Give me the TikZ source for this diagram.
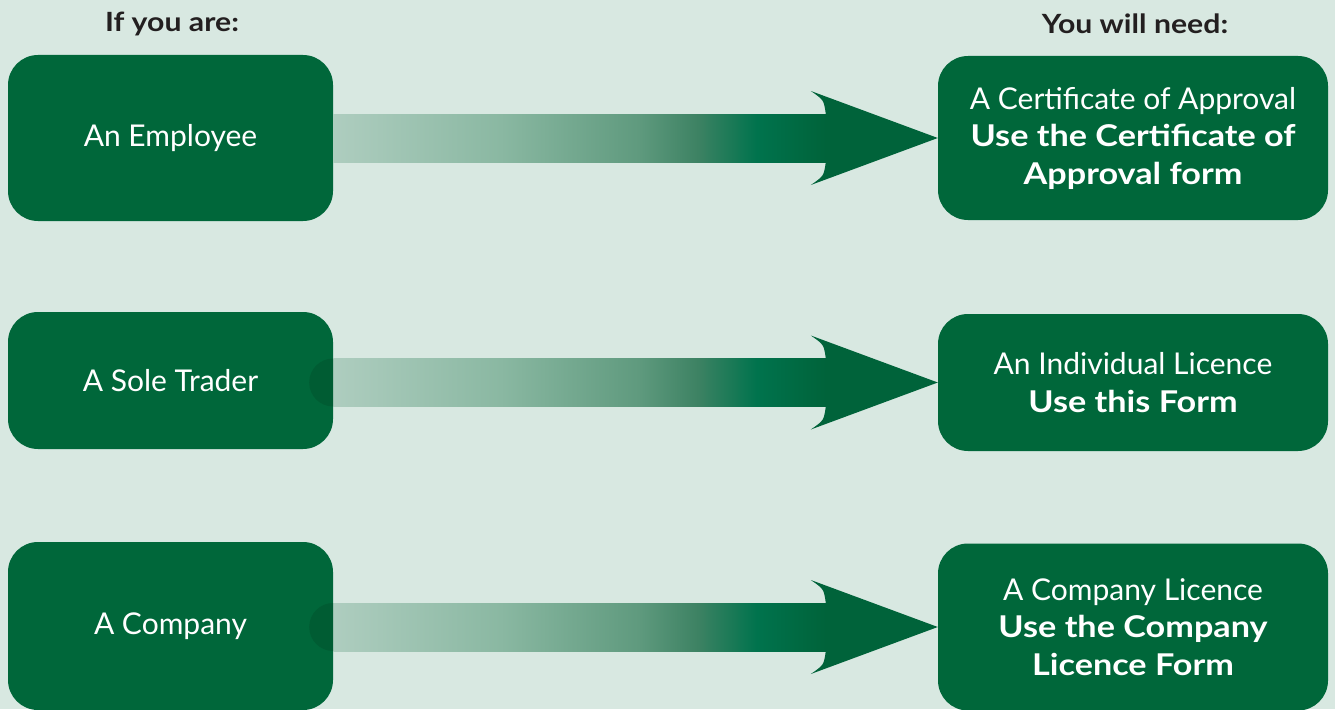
\documentclass[tikz,border=0pt]{standalone}
\usepackage{fontspec}
\setmainfont{Lato}[BoldFeatures={FakeStretch=1.14}]
\usetikzlibrary{calc}

\definecolor{bggreen}{HTML}{D8E8E1}
\definecolor{boxgreen}{HTML}{00673A}
\definecolor{headgreen}{HTML}{00633A}
\definecolor{capgreen}{HTML}{005C33}
\definecolor{headtext}{HTML}{231F20}
\definecolor{shaftlight}{HTML}{AECDBF}
\definecolor{shaftA}{HTML}{8AB8A2}
\definecolor{shaftB}{HTML}{5F9A7E}
\definecolor{shaftC}{HTML}{3D8263}
\definecolor{shaftbright}{HTML}{00734D}

% the path is mapped to 25bp..75bp of the shading
\pgfdeclarehorizontalshading{shaftshade}{100bp}{color(0bp)=(shaftlight); color(25bp)=(shaftlight); color(42bp)=(shaftA); color(56bp)=(shaftB); color(62bp)=(shaftC); color(68bp)=(shaftbright); color(75bp)=(headgreen); color(100bp)=(headgreen)}

\tikzset{
  greenbox/.style={fill=boxgreen, rounded corners=30pt, text=white, align=center,
    font=\fontsize{30}{37.5}\selectfont, inner sep=0pt},
  headline/.style={font=\bfseries\fontsize{26.5}{30}\selectfont, text=headtext},
}

% arrow from box #2 to box #3, with a round cap when #1 = cap
\newcommand{\flowarrow}[3][]{%
  \shade[shading=shaftshade] let \p1=(#2.east), \p2=(#3.west) in
    (\x1,\y2+24pt) -- (\x2-112pt,\y2+24pt) -- (\x2-112pt,\y2-24pt) -- (\x1,\y2-24pt) -- cycle;
  \fill[headgreen] let \p2=(#3.west) in
    (\p2) -- (\x2-127pt,\y2+47pt) .. controls (\x2-114pt,\y2+38pt) .. (\x2-112pt,\y2+24pt)
    -- (\x2-112pt,\y2-24pt) .. controls (\x2-114pt,\y2-38pt) .. (\x2-127pt,\y2-47pt) -- cycle;
  \ifx\relax#1\relax\else
    \fill[capgreen] let \p1=(#2.east), \p2=(#3.west) in
      (\x1,\y2+24pt) arc (90:270:24pt) -- cycle;
  \fi
}

\begin{document}
\begin{tikzpicture}[x=1pt,y=-1pt]
  \fill[bggreen] (0,0) rectangle (1335,709);
  \useasboundingbox (0,0) rectangle (1335,709);

  % column heads
  \node[headline] (youare) at (172,24) {If you are:};
  \node[headline] (youneed) at (1135,24) {You will need:};

  % who you are
  \node[greenbox, minimum width=325pt, minimum height=166pt] (employee) at (170.5,138) {An Employee};
  \node[greenbox, minimum width=325pt, minimum height=137pt] (trader) at (170.5,380.5) {A Sole Trader};
  \node[greenbox, minimum width=325pt, minimum height=168pt] (company) at (170.5,626) {A Company};

  % what you need
  \node[greenbox, minimum width=390pt, minimum height=164pt] (certificate) at (1133,138)
    {A Certificate of Approval\\ \textbf{Use the Certificate of}\\ \textbf{Approval form}};
  \node[greenbox, minimum width=390pt, minimum height=137pt] (individual) at (1133,382.5)
    {An Individual Licence\\ \textbf{Use this Form}};
  \node[greenbox, minimum width=390pt, minimum height=167pt] (licence) at (1133,627)
    {A Company Licence\\ \textbf{Use the Company}\\ \textbf{Licence Form}};

  \flowarrow{employee}{certificate}
  \flowarrow[cap]{trader}{individual}
  \flowarrow[cap]{company}{licence}
\end{tikzpicture}
\end{document}
